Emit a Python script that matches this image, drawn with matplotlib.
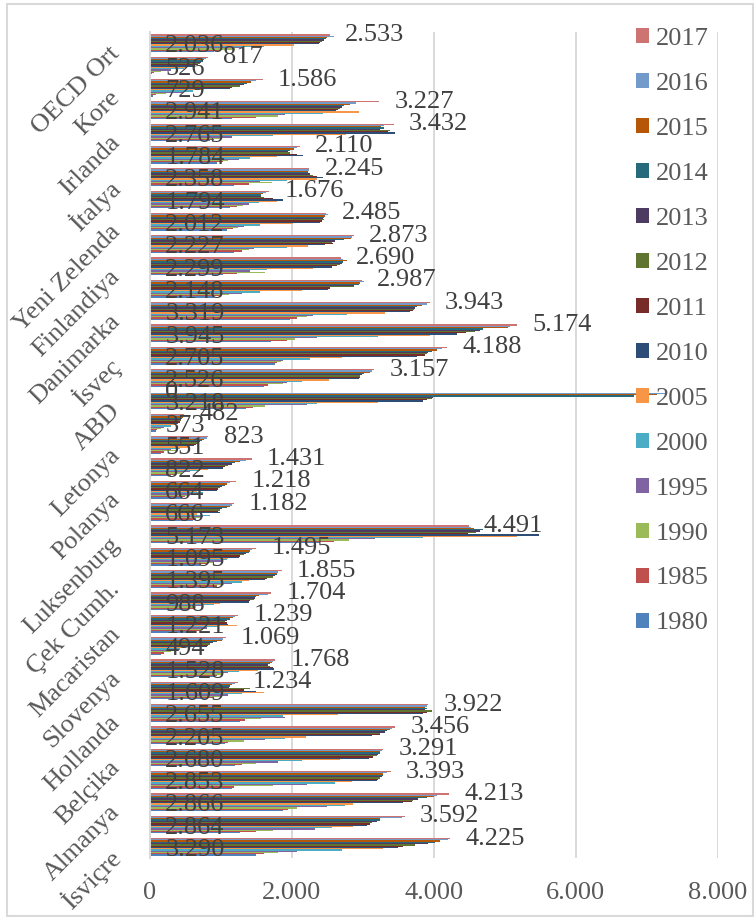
import numpy as np
import matplotlib.pyplot as plt
from matplotlib.patches import Rectangle
from matplotlib.ticker import FuncFormatter
from matplotlib.transforms import ScaledTranslation

plt.rcParams['font.family'] = ['Liberation Serif', 'DejaVu Serif']

# 37 categories, only every other one carries a visible label (as in the source chart)
cat_labels = ["OECD Ort", "Kore", "Irlanda", "İtalya", "Yeni Zelenda", "Finlandiya",
              "Danimarka", "İsveç", "ABD", "Letonya", "Polanya", "Luksenburg",
              "Çek Cumh.", "Macaristan", "Slovenya", "Hollanda", "Belçika",
              "Almanya", "İsviçre"]

v2017 = [2533, 817, 1586, 3227, 3432, 2110, 2245, 1676, 2485, 2873, 2690, 2987, 3943, 5174, 4188, 3157, 0, 482, 823, 1431, 1218, 1182, 4491, 1495, 1855, 1704, 1239, 1069, 1768, 1234, 3922, 3456, 3291, 3393, 4213, 3592, 4225]
v2016 = [2600, 790, 1500, 2900, 3300, 2070, 2240, 1630, 2510, 2850, 2720, 3010, 3900, 5080, 4120, 3130, 7290, 470, 800, 1360, 1130, 1150, 4520, 1440, 1810, 1670, 1200, 1030, 1740, 1200, 3900, 3410, 3270, 3340, 4040, 3550, 4200]
v2015 = [2500, 760, 1420, 2820, 3250, 2030, 2220, 1590, 2470, 2840, 2770, 2960, 3830, 5050, 4040, 3100, 7150, 460, 760, 1270, 1080, 1130, 4560, 1410, 1790, 1530, 1170, 1010, 1720, 1150, 3880, 3380, 3240, 3290, 4000, 3240, 4090]
v2014 = [2480, 740, 1370, 2740, 3300, 1980, 2230, 1560, 2450, 2730, 2720, 2940, 3760, 4700, 3970, 3010, 6820, 450, 730, 1200, 1060, 1080, 4700, 1390, 1790, 1500, 1130, 940, 1690, 1130, 3900, 3340, 3240, 3290, 3900, 3240, 4020]
v2013 = [2450, 720, 1320, 2700, 3240, 1950, 2250, 1560, 2440, 2610, 2700, 2870, 3740, 4650, 3920, 2990, 3990, 440, 700, 1150, 1010, 1010, 4650, 1360, 1760, 1480, 1080, 890, 1670, 1110, 3880, 3310, 3220, 3270, 3780, 3200, 3920]
v2012 = [2420, 700, 1270, 2680, 3380, 1980, 2300, 1600, 2450, 2560, 2680, 2870, 3720, 4580, 3900, 2960, 3970, 430, 680, 1100, 990, 990, 4600, 1320, 1740, 1460, 1060, 850, 1690, 1410, 3970, 3240, 3200, 3240, 3710, 3130, 3740]
v2011 = [2400, 680, 1160, 2650, 3360, 2070, 2350, 1740, 2420, 2580, 2630, 2540, 3700, 4460, 3880, 2960, 3900, 420, 650, 1060, 960, 960, 4480, 1270, 1650, 1410, 1080, 820, 1740, 1320, 3900, 3240, 3150, 3220, 3690, 3100, 3570]
v2010 = [2380, 640, 1130, 2620, 3460, 2160, 2440, 1880, 2400, 2470, 2560, 2510, 3670, 4320, 3760, 2940, 3850, 400, 620, 1030, 940, 990, 5480, 1250, 1620, 1390, 1100, 800, 1750, 1500, 3850, 3125, 3080, 3200, 3570, 3055, 3500]
v2005 = [2036, 526, 729, 2941, 2765, 1784, 2358, 1794, 2012, 2227, 2299, 2148, 3319, 3945, 2705, 2526, 3218, 373, 551, 822, 664, 666, 5173, 1095, 1395, 988, 1221, 494, 1528, 1609, 2655, 2205, 2680, 2853, 2866, 2864, 3290]
v2000 = [1600, 480, 600, 2440, 1740, 1410, 1930, 1530, 1550, 1930, 1650, 1550, 2770, 3220, 2260, 2140, 2350, 300, 420, 700, 750, 850, 3850, 1080, 1300, 900, 940, 420, 1250, 1300, 1880, 1900, 2140, 2610, 2750, 2560, 2700]
v1995 = [1300, 300, 470, 1900, 1150, 1250, 1550, 1400, 1320, 1460, 1410, 1300, 2300, 2350, 1880, 1930, 2210, 200, 300, 560, 610, 750, 3170, 1000, 1150, 750, 800, 350, 1100, 1100, 1900, 1620, 1810, 2210, 2490, 2330, 2070]
v1990 = [1200, 150, 230, 1810, 1000, 1100, 1720, 1310, 1240, 1400, 1620, 1120, 2210, 2040, 1850, 1880, 1620, 150, 400, 450, 560, 700, 2800, 900, 1050, 650, 750, 300, 1000, 1000, 1570, 1320, 1500, 1740, 2070, 1740, 1800]
v1985 = [1000, 60, 80, 1500, 900, 1030, 1400, 1220, 1170, 1290, 1220, 1000, 2070, 1930, 1790, 1670, 1450, 100, 200, 350, 500, 650, 2600, 800, 950, 600, 700, 200, 950, 900, 1340, 1100, 1300, 1180, 1950, 1500, 1600]
v1980 = [900, 30, 40, 1150, 850, 940, 1180, 1130, 1080, 1180, 1030, 900, 1970, 1700, 1760, 1600, 1350, 80, 150, 300, 450, 600, 2400, 700, 900, 550, 650, 150, 900, 800, 1270, 1060, 1200, 1150, 1880, 1270, 1500]

years = ['1980', '1985', '1990', '1995', '2000', '2005', '2010', '2011',
         '2012', '2013', '2014', '2015', '2016', '2017']
series = [v1980, v1985, v1990, v1995, v2000, v2005, v2010, v2011,
          v2012, v2013, v2014, v2015, v2016, v2017]
colors = ['#4F81BD', '#C0504D', '#9BBB59', '#8064A2', '#4BACC6', '#F79646',
          '#2C4D75', '#772C2A', '#5F7530', '#4D3B62', '#276A7C', '#B65708',
          '#729ACA', '#CD7371']


def fmt(v, pos=None):
    return f"{int(v):,}".replace(',', '.')


W, H = 755, 917
fig = plt.figure(figsize=(W / 100, H / 100), dpi=100)
ax = fig.add_axes([150 / W, 1 - 858 / H, 567.6 / W, 826 / H])

n = len(v2017)
ns = len(series)
y = np.arange(n)
bh = 0.8 / ns
handles = []
for j, (vals, c, yr) in enumerate(zip(series, colors, years)):
    b = ax.barh(y + (ns / 2 - 0.5 - j) * bh, vals, height=bh, color=c,
                label=yr, linewidth=0, zorder=2)
    handles.append(b)

# outside end labels for 2017, inside base labels for 2005
off17 = (ns / 2 - 0.5 - years.index('2017')) * bh
off05 = (ns / 2 - 0.5 - years.index('2005')) * bh
for i in range(n):
    ax.annotate(fmt(v2017[i]), (v2017[i], i + off17), xytext=(11, 0),
                textcoords='offset points', ha='left', va='center',
                fontsize=19, color='#404040', zorder=4)
    ax.annotate(fmt(v2005[i]), (0, i + off05), xytext=(11, -1),
                textcoords='offset points', ha='left', va='center',
                fontsize=19, color='#404040', zorder=4)

ax.set_xlim(0, 8000)
ax.set_ylim(n - 0.5, -0.5)
ax.set_xticks(np.arange(0, 8001, 2000))
ax.xaxis.set_major_formatter(FuncFormatter(fmt))
ax.set_yticks(y[::2])
ax.set_yticklabels(cat_labels, rotation=45, ha='right', va='center',
                   rotation_mode='anchor')
ax.tick_params(axis='x', length=0, pad=17.5, labelsize=19, labelcolor='#595959')
ax.tick_params(axis='y', length=0, pad=18, labelsize=19, labelcolor='#595959')
shift = ScaledTranslation(-6 / 72, -5 / 72, fig.dpi_scale_trans)
for lbl in ax.get_yticklabels():
    lbl.set_transform(lbl.get_transform() + shift)
ax.grid(axis='x', color='#D9D9D9', linewidth=1.4, zorder=0)
ax.set_axisbelow(True)
for s in ['top', 'right', 'bottom']:
    ax.spines[s].set_visible(False)
ax.spines['left'].set_color('#D9D9D9')
ax.spines['left'].set_linewidth(1.4)

leg = fig.legend(handles[::-1], years[::-1], loc='upper left',
                 bbox_to_anchor=(636 / W, 1 - 28 / H), frameon=False,
                 fontsize=19, labelspacing=0.87, handlelength=0.5,
                 handleheight=0.5, handletextpad=0.25, borderpad=0,
                 borderaxespad=0, labelcolor='#595959')
leg.set_zorder(5)

fig.patches.append(Rectangle((7 / W, 1 / H), 746 / W, 912 / H,
                             transform=fig.transFigure, fill=False,
                             edgecolor='#D9D9D9', linewidth=1.5))

fig.savefig('out.png', dpi=100)
